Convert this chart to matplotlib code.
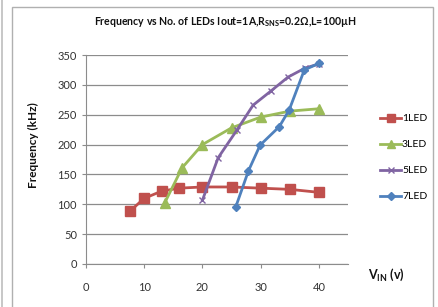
import matplotlib
matplotlib.use("Agg")
import matplotlib.pyplot as plt
from matplotlib.patches import Rectangle

plt.rcParams['font.family'] = ['Lato', 'DejaVu Sans']
plt.rcParams['mathtext.fontset'] = 'custom'
plt.rcParams['mathtext.rm'] = 'Lato'
plt.rcParams['mathtext.bf'] = 'Lato:bold'

title = "Frequency vs No. of LEDs Iout=1A,R$_{\\mathregular{SNS}}$=0.2\u03a9,L=100\u00b5H"
x_ticks = [0, 10, 20, 30, 40]
y_ticks = [0, 50, 100, 150, 200, 250, 300, 350]

led1_x = [7.5, 10, 13, 16, 20, 25, 30, 35, 40]
led1_y = [88, 110, 122, 127, 129, 129, 127, 125, 120]

led3_x = [13.5, 16.5, 20, 25, 30, 35, 40]
led3_y = [102, 161, 200, 228, 246, 256, 260]

led5_x = [20, 22.7, 25.9, 28.7, 31.8, 34.7, 37.6, 40]
led5_y = [107, 178, 224, 266, 290, 313, 328, 335]

led7_x = [25.7, 27.9, 29.9, 33.2, 34.9, 37.5, 40]
led7_y = [95, 156, 199, 230, 258, 325, 336]

W, H = 438, 307
fig = plt.figure(figsize=(W / 100, H / 100), dpi=100)

# chart frame
fig.patches.append(Rectangle((12 / W, -0.05), (433 - 12) / W, (H - 7) / H + 0.05,
                             transform=fig.transFigure, fill=False,
                             edgecolor='#b0b0b0', lw=1.0))
fig.patches.append(Rectangle((1 / W, -0.05), 1.5 / W, 1.1,
                             transform=fig.transFigure, color='#c8c8c8', lw=0))

ax = fig.add_axes([86 / W, (H - 264) / H, (348 - 86) / W, (264 - 55) / H])
ax.set_xlim(0, 45)
ax.set_ylim(0, 350)

lw = 2.0
ax.plot(led1_x, led1_y, color='#C0504D', lw=lw, marker='s', ms=6.5, label='1LED', zorder=3)
ax.plot(led3_x, led3_y, color='#9BBB59', lw=lw, marker='^', ms=7, label='3LED', zorder=3)
ax.plot(led5_x, led5_y, color='#8064A2', lw=lw, marker='x', ms=5, mew=1.0, label='5LED', zorder=4)
ax.plot(led7_x, led7_y, color='#4F81BD', lw=lw, marker='D', ms=4.5, label='7LED', zorder=5)

ax.set_xticks(x_ticks)
ax.set_yticks(y_ticks)
ax.yaxis.grid(True, color='#8c8c8c', lw=0.9)
ax.set_axisbelow(True)
for s in ['top', 'right']:
    ax.spines[s].set_visible(False)
ax.spines['left'].set_color('#8c8c8c')
ax.spines['bottom'].set_color('#8c8c8c')
ax.tick_params(axis='both', colors='#8c8c8c', labelcolor='#333333', labelsize=8, length=3)
ax.tick_params(axis='x', pad=10)

fig.text(225 / W, (H - 22) / H, title, ha='center', va='center', fontsize=7.6,
         fontweight='bold', color='#111111')
fig.text(33 / W, (H - 145) / H, 'Frequency (kHz)', rotation=90, ha='center', va='center',
         fontsize=8.5, fontweight='bold', color='#111111')
fig.text(368 / W, (H - 275) / H, 'V$_{\\mathregular{IN}}$ (v)', ha='left', va='center',
         fontsize=9, fontweight='bold', color='#111111')

handles, labels = ax.get_legend_handles_labels()
leg = fig.legend(handles, labels, loc='upper left', bbox_to_anchor=(376 / W, (H - 110) / H),
                 frameon=False, fontsize=7.5, handlelength=2.0, handletextpad=0.1,
                 labelspacing=1.6, borderaxespad=0, markerscale=0.8)

fig.savefig('out.png', dpi=100)
